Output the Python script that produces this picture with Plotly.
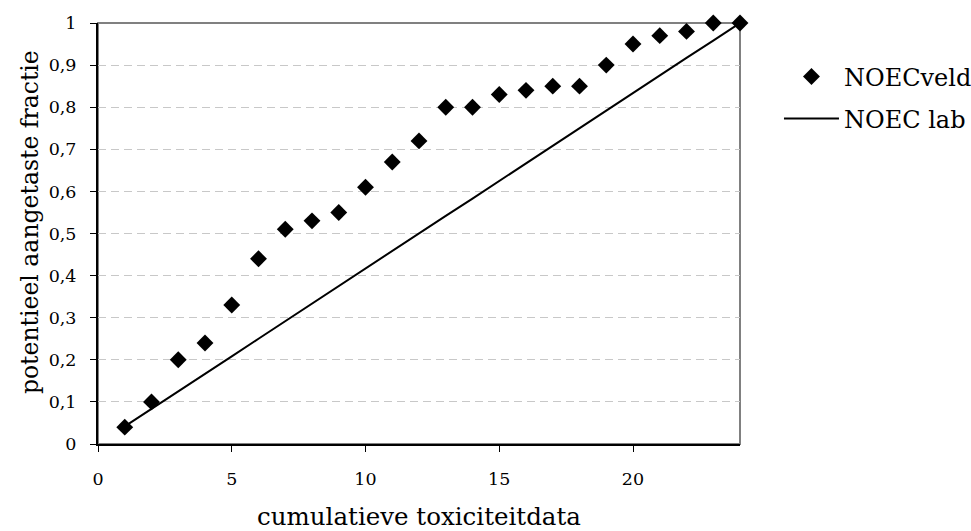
import plotly.graph_objects as go

# cumulative number of toxicity data points
rank = [1, 2, 3, 4, 5, 6, 7, 8, 9, 10, 11, 12,
        13, 14, 15, 16, 17, 18, 19, 20, 21, 22, 23, 24]

# potentially affected fraction, field NOECs
noec_veld = [0.04, 0.10, 0.20, 0.24, 0.33, 0.44, 0.51, 0.53, 0.55, 0.61, 0.67, 0.72,
             0.80, 0.80, 0.83, 0.84, 0.85, 0.85, 0.90, 0.95, 0.97, 0.98, 1.00, 1.00]

# potentially affected fraction, laboratory NOECs
noec_lab = [0.042, 0.083, 0.125, 0.167, 0.208, 0.250, 0.292, 0.333, 0.375, 0.417, 0.458, 0.500,
            0.542, 0.583, 0.625, 0.667, 0.708, 0.750, 0.792, 0.833, 0.875, 0.917, 0.958, 1.000]

FONT = "DejaVu Serif"

fig = go.Figure()
fig.add_trace(go.Scatter(
    x=rank, y=noec_veld, name="NOECveld", mode="markers",
    marker=dict(symbol="diamond", size=13, color="black"),
    cliponaxis=False, legend="legend",
))
fig.add_trace(go.Scatter(
    x=rank, y=noec_lab, name="NOEC lab", mode="lines",
    line=dict(color="black", width=2),
    cliponaxis=False, legend="legend2",
))

# grey frame on the top and right of the plot area
fig.add_shape(type="rect", xref="paper", yref="paper", x0=0, y0=0, x1=1, y1=1,
              line=dict(color="#808080", width=2), layer="below")

# vertical axis title, sitting slightly above the middle of the axis
fig.add_annotation(text="potentieel aangetaste fractie", textangle=-90,
                   xref="paper", yref="paper", x=-0.106, y=0.527,
                   xanchor="center", yanchor="middle", showarrow=False,
                   font=dict(size=23.5, family=FONT, color="black"))

legend_style = dict(xanchor="left", yanchor="middle", font=dict(size=24, family=FONT),
                    itemwidth=55, bgcolor="rgba(0,0,0,0)", borderwidth=0)

fig.update_layout(
    width=971, height=531,
    margin=dict(l=98, r=231, t=23, b=87, autoexpand=False),
    paper_bgcolor="white", plot_bgcolor="white",
    separators=",.",
    font=dict(family=FONT, color="black"),
    showlegend=True,
    legend=dict(x=1.0607, y=0.872, **legend_style),
    legend2=dict(x=1.0607, y=0.772, **legend_style),
    xaxis=dict(
        range=[0, 24], tick0=0, dtick=5, showgrid=False, zeroline=False,
        showline=True, linecolor="black", linewidth=2,
        ticks="outside", ticklen=6, tickcolor="black", tickwidth=1,
        tickfont=dict(size=17.5, family=FONT), ticklabelstandoff=12,
        automargin=False,
        title=dict(text="cumulatieve toxiciteitdata", font=dict(size=24.5, family=FONT), standoff=20),
    ),
    yaxis=dict(
        range=[0, 1], tick0=0, dtick=0.1, showgrid=True, gridcolor="#c8c8c8",
        griddash="8px,5px", gridwidth=1, zeroline=False,
        showline=True, linecolor="black", linewidth=2,
        ticks="outside", ticklen=6, tickcolor="black", tickwidth=1,
        tickfont=dict(size=17.5, family=FONT), ticklabelstandoff=10,
        automargin=False,
    ),
)

fig.write_html("out.html")
